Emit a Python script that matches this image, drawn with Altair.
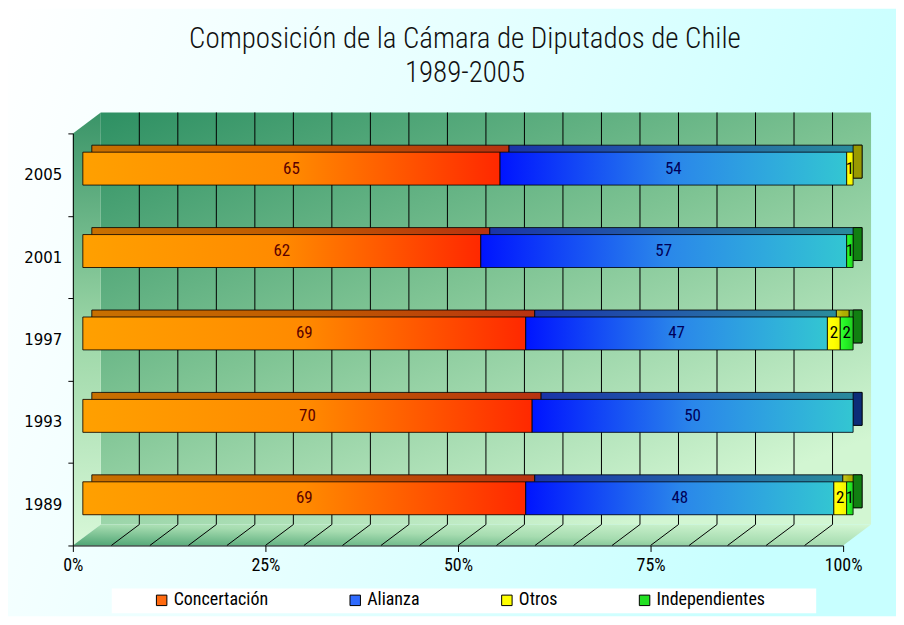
import altair as alt
import pandas as pd

# ---------------- data ----------------
years = ["1989", "1993", "1997", "2001", "2005"]
year_order = ["2005", "2001", "1997", "1993", "1989"]
series = ["Concertación", "Alianza", "Otros", "Independientes"]
concertacion = [69, 70, 69, 62, 65]
alianza = [48, 50, 47, 57, 54]
otros = [2, 0, 2, 0, 1]
independientes = [1, 0, 2, 1, 0]
x_ticks = [0, 0.25, 0.5, 0.75, 1.0]
grid_steps = [0.05, 0.10, 0.15, 0.20, 0.25, 0.30, 0.35, 0.40, 0.45, 0.50,
              0.55, 0.60, 0.65, 0.70, 0.75, 0.80, 0.85, 0.90, 0.95]
title_lines = ["Composición de la Cámara de Diputados de Chile", "1989-2005"]

# ---------------- styles ----------------
legend_colors = ["#FF6A10", "#2F6BFF", "#FFFF00", "#22E022"]
front_grad = {
    "Concertación": ["#FFA000", "#FF8A00", "#FF2800"],
    "Alianza": ["#0014FF", "#2A86EA", "#33C6D2"],
    "Otros": ["#FFFF10", "#FFFF00", "#F2F200"],
    "Independientes": ["#33FF33", "#22EE22", "#22CC22"],
}
top_grad = {
    "Concertación": ["#C87000", "#C05A00", "#B83210"],
    "Alianza": ["#1A34A8", "#2460A8", "#2A8C9C"],
    "Otros": ["#CACA20", "#B0B000", "#A8A800"],
    "Independientes": ["#33BB33", "#229922", "#1A8F1A"],
}
side_colors = {"Concertación": "#A02000", "Alianza": "#0C2C78",
               "Otros": "#999900", "Independientes": "#117F11"}
label_colors = {"Concertación": "#5A0000", "Alianza": "#000058",
                "Otros": "#000000", "Independientes": "#000000"}

NARROW = "'Roboto Condensed', 'Liberation Sans Narrow', Roboto, sans-serif"
W, H = 772, 413          # front plane of the 3D plot
DX, DY = 28, 21          # depth of the 3D box
BX, BY = 10, -6          # bar front face offset
TX, TY = 9, -7           # bar top face depth
BAR_H = 33


def grad(colors, x2=1, y2=0, x1=0, y1=0):
    n = len(colors)
    return alt.Gradient(
        gradient="linear", x1=x1, y1=y1, x2=x2, y2=y2,
        stops=[alt.GradientStop(color=c, offset=i / (n - 1)) for i, c in enumerate(colors)],
    )


# ---------------- tables ----------------
values = {"Concertación": concertacion, "Alianza": alianza,
          "Otros": otros, "Independientes": independientes}
rows = []
for i, y in enumerate(years):
    total = sum(values[s][i] for s in series)
    cum = 0
    present = [s for s in series if values[s][i] > 0]
    for k, s in enumerate(series):
        v = values[s][i]
        if v > 0:
            rows.append(dict(year=y, serie=s, order=k, seats=v,
                             start=cum / total, end=(cum + v) / total,
                             mid=(cum + v / 2) / total,
                             last=(s == present[-1])))
        cum += v
df = pd.DataFrame(rows)
grid_df = pd.DataFrame({"g": grid_steps})
one = pd.DataFrame({"k": [0]})

xscale = alt.Scale(domain=[0, 1], nice=False, zero=False)
xaxis = alt.Axis(values=x_ticks, format="%", grid=False, labelFlush=False,
                 domainColor="black", tickColor="black", tickSize=6,
                 labelFont=NARROW, labelFontSize=18, labelColor="black",
                 labelPadding=5, zindex=2)


def X(field):
    return alt.X(field, type="quantitative", scale=xscale, axis=xaxis, title=None)


yenc = alt.Y("year:N", sort=year_order, title=None,
             scale=alt.Scale(paddingInner=0, paddingOuter=0),
             axis=alt.Axis(tickBand="extent", domainColor="black", tickColor="black",
                           tickSize=5, labelFont="DejaVu Sans", labelFontSize=15,
                           labelColor="black", labelPadding=6, zindex=2))

# ---------------- decoration layers ----------------
background = alt.Chart(one).mark_rect(
    fill=grad(["#FFFFFF", "#E6FFFF", "#C8FFFF"], x2=1, y2=0.25)
).encode(x=alt.value(-65), x2=alt.value(825), y=alt.value(-125), y2=alt.value(484))

back_wall = alt.Chart(one).mark_rect(
    fill=grad(["#2E9063", "#7FC494", "#D2F6D2"], x2=0.7, y2=1)
).encode(x=alt.value(DX), x2=alt.value(W + DX), y=alt.value(-DY), y2=alt.value(H - DY))

left_path = f"M0,0 L{DX},{-DY} L{DX},{H - DY} L0,{H} Z"
left_wall = alt.Chart(one).mark_point(
    shape=left_path, size=4, filled=True, opacity=1, strokeWidth=0,
    fill=grad(["#3A9468", "#9BD6A6", "#D8F8D8"], x2=0, y2=1)
).encode(x=alt.value(0), y=alt.value(0))

floor_path = f"M0,0 L{W},0 L{W + DX},{-DY} L{DX},{-DY} Z"
floor = alt.Chart(one).mark_point(
    shape=floor_path, size=4, filled=True, opacity=1, strokeWidth=0,
    fill=grad(["#4FA574", "#A6DCB0", "#D4F7D4"], x1=0, y1=1, x2=1, y2=0)
).encode(x=alt.value(0), y=alt.value(H))

wall_grid = alt.Chart(grid_df).mark_rule(
    color="black", strokeWidth=1, xOffset=DX, x2Offset=DX
).encode(x=X("g"), y=alt.value(-DY), y2=alt.value(H - DY))

floor_grid = alt.Chart(grid_df).mark_rule(
    color="black", strokeWidth=1, x2Offset=DX
).encode(x=X("g"), x2="g:Q", y=alt.value(H), y2=alt.value(H - DY))

legend_box = alt.Chart(one).mark_rect(fill="white").encode(
    x=alt.value(39), x2=alt.value(745), y=alt.value(456), y2=alt.value(481))

title_layers = [
    alt.Chart(pd.DataFrame({"t": [line]})).mark_text(
        font=NARROW, fontSize=29, fontWeight=300, color="#111111", align="center",
        baseline="middle"
    ).encode(x=alt.value(393), y=alt.value(-95 + 34 * i), text="t:N")
    for i, line in enumerate(title_lines)
]

# ---------------- bars ----------------
top_layers = []
side_layers = []
front_layers = []
label_layers = []
for s in series:
    sub = alt.Chart(df).transform_filter(alt.datum.serie == s)
    top_layers.append(sub.mark_bar(
        size=BAR_H, xOffset=BX + TX, x2Offset=BX + TX, yOffset=BY + TY,
        fill=grad(top_grad[s]), stroke="black", strokeWidth=0.8
    ).encode(x=X("start"), x2="end:Q", y=yenc))
    side_layers.append(sub.transform_filter(alt.datum.last).mark_bar(
        size=BAR_H, xOffset=BX, x2Offset=BX + TX, yOffset=BY + TY,
        fill=side_colors[s], stroke="black", strokeWidth=0.8
    ).encode(x=X("end"), x2="end:Q", y=yenc))
    front_layers.append(sub.mark_bar(
        size=BAR_H, xOffset=BX, x2Offset=BX, yOffset=BY,
        fill=grad(front_grad[s]), stroke="black", strokeWidth=0.8
    ).encode(x=X("start"), x2="end:Q", y=yenc))
    label_layers.append(sub.mark_text(
        font=NARROW, fontSize=17, color=label_colors[s], xOffset=BX, yOffset=BY,
        align="center", baseline="middle"
    ).encode(x=X("mid"), y=yenc, text="seats:Q"))

legend_bars = alt.Chart(df).mark_bar(
    size=BAR_H, xOffset=BX, x2Offset=BX, yOffset=BY
).encode(
    x=X("start"), x2="end:Q", y=yenc,
    color=alt.Color("serie:N", scale=alt.Scale(domain=series, range=legend_colors),
                    legend=alt.Legend(orient="none", legendX=80, legendY=459,
                                      direction="horizontal", title=None,
                                      columnPadding=78, symbolType="square",
                                      symbolSize=110, symbolStrokeColor="black",
                                      symbolStrokeWidth=1, labelFont=NARROW,
                                      labelFontSize=18, labelColor="black",
                                      labelOffset=3)),
)

chart = alt.layer(
    background, back_wall, left_wall, floor, wall_grid, floor_grid, legend_box,
    *title_layers, *top_layers, *side_layers, legend_bars, *front_layers, *label_layers
).properties(
    width=W, height=H,
    autosize=alt.AutoSizeParams(type="none"),
    padding={"left": 65, "top": 125, "right": 53, "bottom": 71},
).configure_view(stroke=None).configure(background="white")

chart.save("out.html", embed_options={"renderer": "svg", "actions": False})
